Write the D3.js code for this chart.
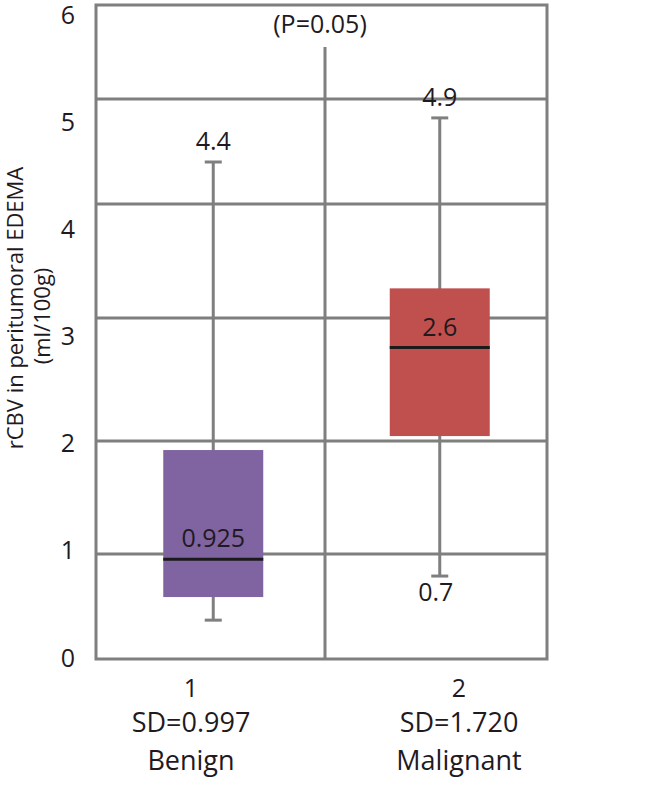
<!DOCTYPE html>
<html>
<head>
<meta charset="utf-8">
<script src="https://cdn.jsdelivr.net/npm/d3@7"></script>
<style>
  body { margin: 0; background: #fff; }
  text { font-family: "Open Sans", sans-serif; fill: #1f1a1f; }
</style>
</head>
<body>
<div id="canvas"></div>
<script>
// DATA
const groups = ["1", "2"];
const groupNames = ["Benign", "Malignant"];
const sdLabels = ["SD=0.997", "SD=1.720"];
const whiskerTop = [4.40, 4.82];
const boxTop = [1.92, 3.26];
const medians = [0.95, 2.76];
const boxBottom = [0.59, 2.04];
const whiskerBottom = [0.37, 0.79];
const topLabels = ["4.4", "4.9"];
const medianLabels = ["0.925", "2.6"];
const bottomLabels = ["", "0.7"];
const boxColors = ["#8064a2", "#c0504d"];
const yTicks = [0, 1, 2, 3, 4, 5, 6];
// gridlines in the source are not evenly spaced
const gridPos = [659, 554, 441, 318, 204, 99, 5];

// DIMENSIONS
const width = 657;
const height = 795;
const frame = { left: 96, right: 547, top: 5, bottom: 659 };
const gray = "#7f7f7f";

const svg = d3.select("#canvas").append("svg")
  .attr("width", width)
  .attr("height", height);

// SCALES
const y = d3.scaleLinear().domain(yTicks).range(gridPos);
const yLabel = d3.scaleLinear().domain([0, 6]).range([658, 15]);
const x = d3.scaleBand().domain(groups).range([100, 553]);
const xLabel = d3.scaleBand().domain(groups).range([57, 593]);

// GRID
svg.append("g").selectAll("line")
  .data(yTicks.slice(1, 6))
  .join("line")
  .attr("x1", frame.left).attr("x2", frame.right)
  .attr("y1", d => y(d)).attr("y2", d => y(d))
  .attr("stroke", gray).attr("stroke-width", 3);

// frame
svg.append("path")
  .attr("d", `M${frame.left},${frame.bottom}V${frame.top}H${frame.right}V${frame.bottom}Z`)
  .attr("fill", "none").attr("stroke", gray).attr("stroke-width", 3);

// middle divider
svg.append("line")
  .attr("x1", 325).attr("x2", 325)
  .attr("y1", frame.bottom).attr("y2", 47)
  .attr("stroke", gray).attr("stroke-width", 3);

svg.append("text")
  .attr("x", 320).attr("y", 33)
  .attr("text-anchor", "middle")
  .attr("font-size", 25)
  .text("(P=0.05)");

// Y AXIS (labels only)
const yAx = d3.axisLeft(yLabel).tickValues(yTicks).tickFormat(d3.format("d"))
  .tickSize(0).tickPadding(0);
const yAxisHolder = svg.append("g").attr("transform", "translate(75,0)").call(yAx);
yAxisHolder.select(".domain").remove();
yAxisHolder.selectAll("text")
  .attr("font-size", 25)
  .attr("font-family", "Open Sans, sans-serif")
  .attr("fill", "#1f1a1f");

// Y TITLE
svg.append("text")
  .attr("transform", "translate(23,308) rotate(-90)")
  .attr("text-anchor", "middle")
  .attr("font-size", 22)
  .text("rCBV in peritumoral EDEMA");
svg.append("text")
  .attr("transform", "translate(50,316) rotate(-90)")
  .attr("text-anchor", "middle")
  .attr("font-size", 22)
  .text("(ml/100g)");

// BOXES
const idx = d3.range(groups.length);
const cx = i => x(groups[i]) + x.bandwidth() / 2;
const boxW = 100, capW = 17;

const plot = svg.append("g");
plot.selectAll(".whisker").data(idx).join("line")
  .attr("class", "whisker")
  .attr("x1", cx).attr("x2", cx)
  .attr("y1", i => y(whiskerTop[i])).attr("y2", i => y(whiskerBottom[i]))
  .attr("stroke", gray).attr("stroke-width", 3);
plot.selectAll(".capTop").data(idx).join("line")
  .attr("class", "capTop")
  .attr("x1", i => cx(i) - capW / 2).attr("x2", i => cx(i) + capW / 2)
  .attr("y1", i => y(whiskerTop[i])).attr("y2", i => y(whiskerTop[i]))
  .attr("stroke", gray).attr("stroke-width", 3);
plot.selectAll(".capBot").data(idx).join("line")
  .attr("class", "capBot")
  .attr("x1", i => cx(i) - capW / 2).attr("x2", i => cx(i) + capW / 2)
  .attr("y1", i => y(whiskerBottom[i])).attr("y2", i => y(whiskerBottom[i]))
  .attr("stroke", gray).attr("stroke-width", 3);
plot.selectAll(".box").data(idx).join("rect")
  .attr("class", "box")
  .attr("x", i => cx(i) - boxW / 2)
  .attr("width", boxW)
  .attr("y", i => y(boxTop[i]))
  .attr("height", i => y(boxBottom[i]) - y(boxTop[i]))
  .attr("fill", i => boxColors[i]);
plot.selectAll(".median").data(idx).join("line")
  .attr("class", "median")
  .attr("x1", i => cx(i) - boxW / 2).attr("x2", i => cx(i) + boxW / 2)
  .attr("y1", i => y(medians[i])).attr("y2", i => y(medians[i]))
  .attr("stroke", "#1a1a1a").attr("stroke-width", 3);

// VALUE LABELS
plot.selectAll(".topLab").data(idx).join("text")
  .attr("class", "topLab")
  .attr("x", cx).attr("y", i => y(whiskerTop[i]) - 12)
  .attr("text-anchor", "middle").attr("font-size", 25)
  .text(i => topLabels[i]);
plot.selectAll(".medLab").data(idx).join("text")
  .attr("class", "medLab")
  .attr("x", cx).attr("y", i => y(medians[i]) - 12)
  .attr("text-anchor", "middle").attr("font-size", 25)
  .text(i => medianLabels[i]);
plot.selectAll(".botLab").data(idx).join("text")
  .attr("class", "botLab")
  .attr("x", i => cx(i) - 4).attr("y", i => y(whiskerBottom[i]) + 25)
  .attr("text-anchor", "middle").attr("font-size", 25)
  .text(i => bottomLabels[i]);

// X LABELS
const xRow = svg.append("g");
xRow.selectAll(".num").data(idx).join("text")
  .attr("class", "num")
  .attr("x", i => xLabel(groups[i]) + xLabel.bandwidth() / 2).attr("y", 697)
  .attr("text-anchor", "middle").attr("font-size", 25)
  .text(i => groups[i]);
xRow.selectAll(".sd").data(idx).join("text")
  .attr("class", "sd")
  .attr("x", i => xLabel(groups[i]) + xLabel.bandwidth() / 2).attr("y", 732)
  .attr("text-anchor", "middle").attr("font-size", 27)
  .text(i => sdLabels[i]);
xRow.selectAll(".name").data(idx).join("text")
  .attr("class", "name")
  .attr("x", i => xLabel(groups[i]) + xLabel.bandwidth() / 2).attr("y", 770)
  .attr("text-anchor", "middle").attr("font-size", 27)
  .text(i => groupNames[i]);
</script>
</body>
</html>
